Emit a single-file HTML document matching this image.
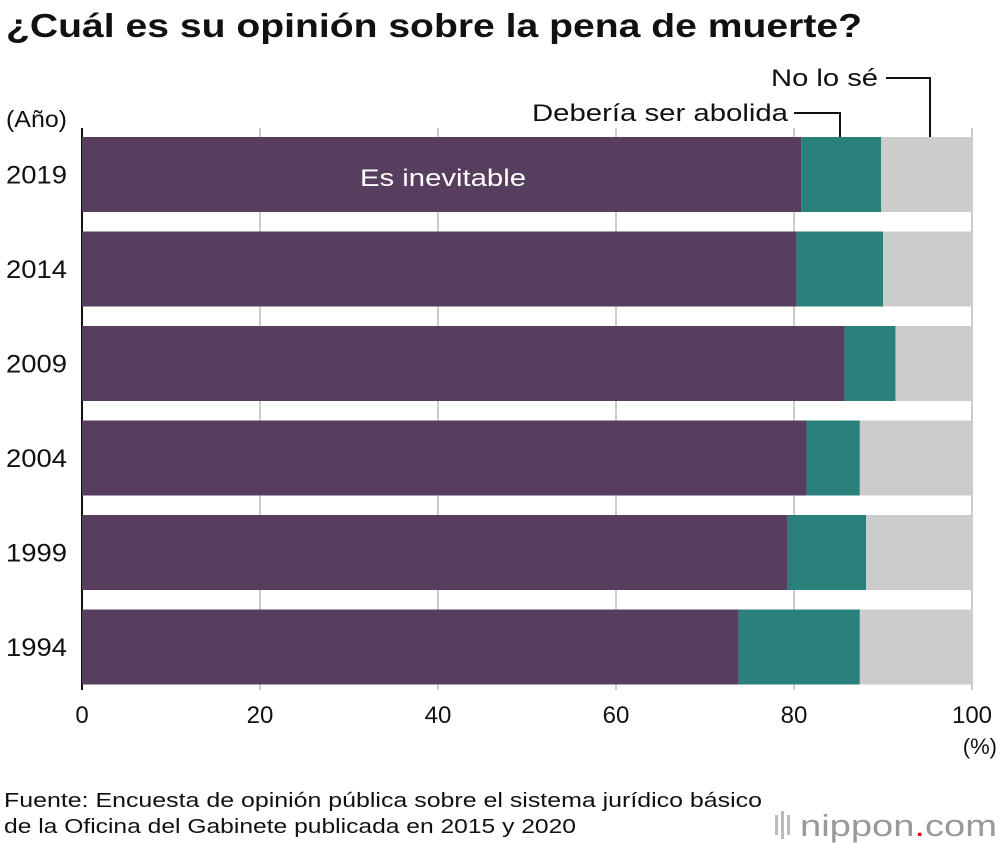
<!DOCTYPE html>
<html><head><meta charset="utf-8"><style>
body{margin:0;background:#fff;font-family:"Liberation Sans",Arial,sans-serif;}
svg text{font-family:"Liberation Sans",Arial,sans-serif;}
</style></head><body>
<svg id="chart" width="1000" height="848" xmlns="http://www.w3.org/2000/svg">
<text x="6" y="37" font-size="33" font-weight="bold" fill="#111" textLength="856" lengthAdjust="spacingAndGlyphs">¿Cuál es su opinión sobre la pena de muerte?</text>
<text x="6" y="127" font-size="23" fill="#111" textLength="61" lengthAdjust="spacingAndGlyphs">(Año)</text>
<g id="grid"></g><g id="bars"></g><g id="labels"></g>
<text x="360" y="186" font-size="24" fill="#fff" textLength="166" lengthAdjust="spacingAndGlyphs">Es inevitable</text>
<text x="532" y="121" font-size="24" fill="#111" textLength="256" lengthAdjust="spacingAndGlyphs">Debería ser abolida</text>
<polyline points="794,113 840,113 840,137" fill="none" stroke="#111" stroke-width="2"/>
<text x="771" y="86" font-size="24" fill="#111" textLength="107" lengthAdjust="spacingAndGlyphs">No lo sé</text>
<polyline points="886,78 930,78 930,137" fill="none" stroke="#111" stroke-width="2"/>
<text x="997" y="754" font-size="22" fill="#111" text-anchor="end">(%)</text>
<text x="4" y="807" font-size="20" fill="#111" textLength="758" lengthAdjust="spacingAndGlyphs">Fuente: Encuesta de opinión pública sobre el sistema jurídico básico</text>
<text x="4" y="833" font-size="20" fill="#111" textLength="572" lengthAdjust="spacingAndGlyphs">de la Oficina del Gabinete publicada en 2015 y 2020</text>
<g>
<rect x="775" y="815" width="3" height="20" fill="#bbb"/><rect x="781" y="811" width="3" height="28" fill="#bbb"/><rect x="787" y="815" width="3" height="20" fill="#bbb"/>
<text x="800" y="836" font-size="31" fill="#999" textLength="197" lengthAdjust="spacingAndGlyphs">nippon<tspan fill="#e0001b">.</tspan>com</text>
</g>
</svg>
<script>
const years=["2019","2014","2009","2004","1999","1994"];
const inevitable=[80.8,80.3,85.7,81.4,79.3,73.8];
const abolish=[9.0,9.7,5.7,6.0,8.8,13.6];
const unknown=[10.2,10.0,8.6,12.6,11.9,12.6];
const ticks=[0,20,40,60,80,100];
const colors=["#573e5e","#2a817c","#cccccc"];
const NS="http://www.w3.org/2000/svg";
const x0=82,x1=972,yTop=137,pitch=94.5,bh=75;
const xs=v=>x0+(x1-x0)*v/100;
const grid=document.getElementById('grid'),bars=document.getElementById('bars'),labels=document.getElementById('labels');
function mk(tag,attrs,parent){const e=document.createElementNS(NS,tag);for(const k in attrs)e.setAttribute(k,attrs[k]);parent.appendChild(e);return e;}
ticks.forEach(t=>{
  const l=mk('line',{x1:xs(t),x2:xs(t),y1:128,y2:690,stroke:t===0?'#111':'#ccc','stroke-width':2},grid);
  
  
  const tx=mk('text',{x:xs(t),y:723,'font-size':24,fill:'#111','text-anchor':'middle'},grid);
  tx.textContent=t;
  
  
});
years.forEach((yr,i)=>{
  const y=yTop+i*pitch;
  const vals=[inevitable[i],abolish[i],unknown[i]];
  const names=['inevitable','abolish','unknown'];
  let acc=0;
  vals.forEach((v,j)=>{
    const end=j===2?100:acc+v;
    const r=mk('rect',{x:xs(acc),y:y,width:xs(end)-xs(acc),height:bh,fill:colors[j]},bars);
    
    
    acc+=v;
  });
  const t=mk('text',{x:6,y:y+bh/2+9,'font-size':25,fill:'#111',textLength:61,lengthAdjust:'spacingAndGlyphs'},labels);
  t.textContent=yr;
  
  
});
</script>
</body></html>
